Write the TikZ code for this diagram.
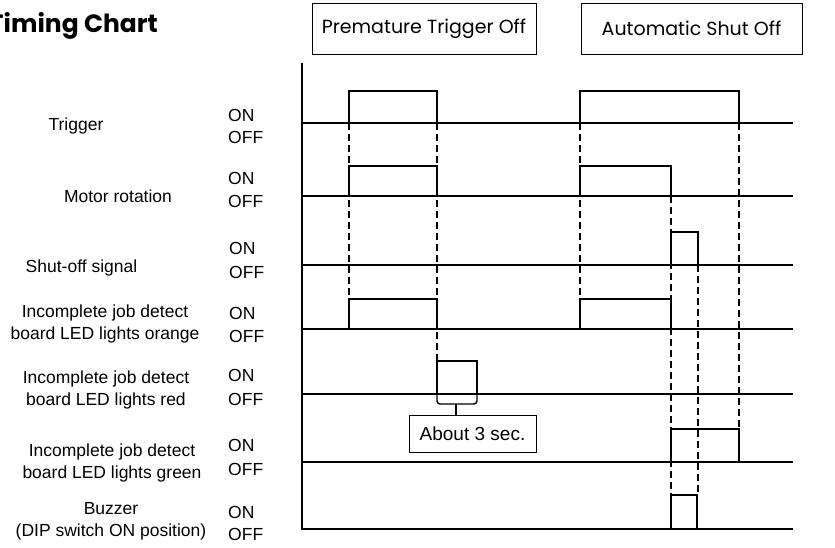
\documentclass[tikz,border=0pt]{standalone}
\usepackage{fontspec}
\setmainfont{Liberation Sans}
\newfontfamily\headfont{Poppins}
\begin{document}
\begin{tikzpicture}[x=1pt,y=-1pt,
  sig/.style={line width=1.4pt,line join=miter},
  guide/.style={line width=1.3pt,dash pattern=on 7pt off 4pt},
  lbl/.style={font=\fontsize{17.5}{22}\selectfont,align=center,inner sep=0pt},
  onoff/.style={font=\fontsize{17.5}{21}\selectfont,anchor=west,inner sep=0pt},
  hbox/.style={draw,line width=0.9pt,font=\headfont\fontsize{19}{22}\selectfont,minimum height=51pt,inner sep=0pt}]
\useasboundingbox (0,0) rectangle (835,548);
% title
\node[anchor=base east,inner sep=0pt,font=\headfont\bfseries\fontsize{25}{30}\selectfont] (title) at (158,33) {Timing Chart};
% header boxes
\node[hbox,minimum width=224pt] (hpre) at (424,28.5) {Premature Trigger Off};
\node[hbox,minimum width=221pt] (hauto) at (691.5,28.5) {Automatic Shut Off};
% signal names
\node[lbl] (lT) at (76,126) {Trigger};
\node[lbl] (lM) at (118,196) {Motor rotation};
\node[lbl] (lS) at (81.5,268) {Shut-off signal};
\node[lbl] (lO) at (105,324) {Incomplete job detect\\board LED lights orange};
\node[lbl] (lR) at (106,390) {Incomplete job detect\\board LED lights red};
\node[lbl] (lG) at (112,463) {Incomplete job detect\\board LED lights green};
\node[lbl] (lB) at (111,521) {Buzzer\\(DIP switch ON position)};
% ON / OFF
\node[onoff] (onT) at (228,115) {ON};   \node[onoff] (offT) at (228,137) {OFF};
\node[onoff] (onM) at (228,178) {ON};   \node[onoff] (offM) at (228,201) {OFF};
\node[onoff] (onS) at (229,248) {ON};   \node[onoff] (offS) at (229,272) {OFF};
\node[onoff] (onO) at (229,313) {ON};   \node[onoff] (offO) at (229,336) {OFF};
\node[onoff] (onR) at (228,375) {ON};   \node[onoff] (offR) at (228,399) {OFF};
\node[onoff] (onG) at (228,445) {ON};   \node[onoff] (offG) at (228,469) {OFF};
\node[onoff] (onB) at (228,512) {ON};   \node[onoff] (offB) at (228,534) {OFF};
% axis and baselines
\draw[sig] (302,63) -- (302,529) -- (793,529);
\foreach \y in {123,196,265,329,394,462} \draw[sig] (302,\y) -- (793,\y);
% dashed guides
\draw[guide] (349,123) -- (349,299);
\draw[guide] (437,123) -- (437,361);
\draw[guide] (580,123) -- (580,299);
\draw[guide] (739,123) -- (739,429);
\draw[guide] (671,196) -- (671,495);
\draw[guide] (698,265) -- (698,495);
% pulses
\draw[sig] (349,123) -- (349,91) -- (437,91) -- (437,123);
\draw[sig] (580,123) -- (580,91) -- (739,91) -- (739,123);
\draw[sig] (349,196) -- (349,166) -- (437,166) -- (437,196);
\draw[sig] (580,196) -- (580,166) -- (671,166) -- (671,196);
\draw[sig] (671,265) -- (671,232) -- (698,232) -- (698,265);
\draw[sig] (349,329) -- (349,299) -- (437,299) -- (437,329);
\draw[sig] (580,329) -- (580,299) -- (671,299) -- (671,329);
\draw[sig] (437,394) -- (437,361) -- (477,361) -- (477,394);
\draw[sig] (671,462) -- (671,429) -- (739,429) -- (739,462);
\draw[sig] (671,529) -- (671,495) -- (697,495) -- (697,529);
% bracket and label
\node[draw,line width=0.9pt,minimum width=127pt,minimum height=37pt,inner sep=0pt,font=\fontsize{19}{22}\selectfont] (box) at (472.5,433.5) {About 3 sec.};
\coordinate (bmid) at (456,404);
\draw[sig,rounded corners=3pt] (437,394) -- (437,404) -- (477,404) -- (477,394);
\draw[sig] (bmid) -- (bmid |- box.north);
\end{tikzpicture}
\end{document}
